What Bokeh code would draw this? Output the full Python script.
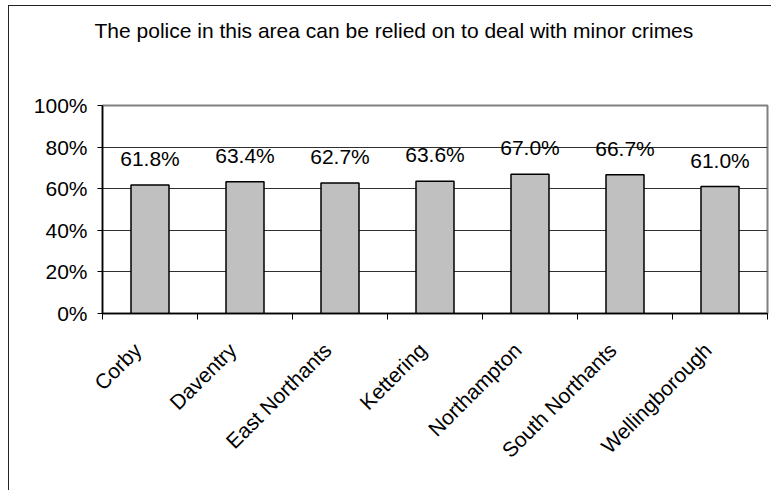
import math

from bokeh.plotting import figure
from bokeh.models import (Range1d, FixedTicker, NumeralTickFormatter, LabelSet,
                          ColumnDataSource, InlineStyleSheet, Title)
from bokeh.core.properties import value
from bokeh.embed import file_html
from bokeh.resources import INLINE

# Survey results by district
districts = ["Corby", "Daventry", "East Northants", "Kettering",
             "Northampton", "South Northants", "Wellingborough"]
agree_share = [0.618, 0.634, 0.627, 0.636, 0.670, 0.667, 0.610]
value_labels = ["61.8%", "63.4%", "62.7%", "63.6%", "67.0%", "66.7%", "61.0%"]
y_ticks = [0.0, 0.2, 0.4, 0.6, 0.8, 1.0]
title_text = "The police in this area can be relied on to deal with minor crimes"

FONT = "Liberation Sans"
FS = "21px"

n = len(districts)
centers = [i + 0.5 for i in range(n)]
# rotated names sit slightly left of their bar centre
label_pos = [c - 0.13 for c in centers]
source = ColumnDataSource(dict(x=centers, top=agree_share, label=value_labels))

p = figure(width=771, height=490, output_backend="svg", toolbar_location=None,
           x_range=Range1d(0, n), y_range=Range1d(0, 1),
           min_border_left=102, min_border_right=4,
           min_border_top=105, min_border_bottom=177)
p.background_fill_color = "white"
p.border_fill_color = "white"
p.outline_line_color = "#808080"
p.outline_line_width = 2

# blank spacer between the plot area and the title
p.add_layout(Title(text=" ", text_font=FONT, text_font_size=FS,
                   standoff=39), "above")
# the title itself, outermost in the top panel
p.add_layout(Title(text=title_text, align="left", offset=-8, standoff=0,
                   text_font=FONT, text_font_size=FS,
                   text_font_style="normal", text_color="black"), "above")

p.vbar(x="x", top="top", width=0.4, bottom=0, source=source,
       fill_color="#c0c0c0", line_color="black", line_width=1.5)

# y axis
p.yaxis.ticker = FixedTicker(ticks=y_ticks)
p.yaxis.formatter = NumeralTickFormatter(format="0%")
p.yaxis.axis_line_color = "black"
p.yaxis.axis_line_width = 1.5
p.yaxis.major_tick_in = 0
p.yaxis.major_tick_out = 5
p.yaxis.major_tick_line_color = "black"
p.yaxis.minor_tick_line_color = None
p.yaxis.major_label_standoff = 10
p.yaxis.major_label_text_font = FONT
p.yaxis.major_label_text_font_size = FS
p.yaxis.major_label_text_color = "black"

# x axis: names near bar centres, tick marks between categories
p.xaxis.ticker = FixedTicker(ticks=label_pos, minor_ticks=list(range(n + 1)))
p.xaxis.major_label_overrides = {c: d for c, d in zip(label_pos, districts)}
p.xaxis.major_label_orientation = math.pi / 4
p.xaxis.major_tick_line_color = None
p.xaxis.minor_tick_in = 0
p.xaxis.minor_tick_out = 6
p.xaxis.minor_tick_line_color = "black"
p.xaxis.axis_line_color = "black"
p.xaxis.axis_line_width = 1.5
p.xaxis.major_label_standoff = 27
p.xaxis.major_label_text_font = FONT
p.xaxis.major_label_text_font_size = FS
p.xaxis.major_label_text_color = "black"

p.xgrid.grid_line_color = None
p.ygrid.ticker = FixedTicker(ticks=y_ticks[1:-1])
p.ygrid.grid_line_color = "#303030"
p.ygrid.grid_line_width = 1

labels = LabelSet(x="x", y="top", text="label", source=source,
                  text_align="center", text_baseline="alphabetic",
                  y_offset=19, text_font=value(FONT), text_font_size=value(FS),
                  text_color="black")
p.add_layout(labels)

# frame drawn around the whole chart area
p.stylesheets = [InlineStyleSheet(css="""
:host::after {
  content: "";
  position: absolute;
  left: 8px;
  top: 5px;
  width: 775px;
  height: 520px;
  border: 1.5px solid #222;
  box-sizing: border-box;
  pointer-events: none;
}
""")]

open("out.html", "w").write(file_html(p, INLINE))
